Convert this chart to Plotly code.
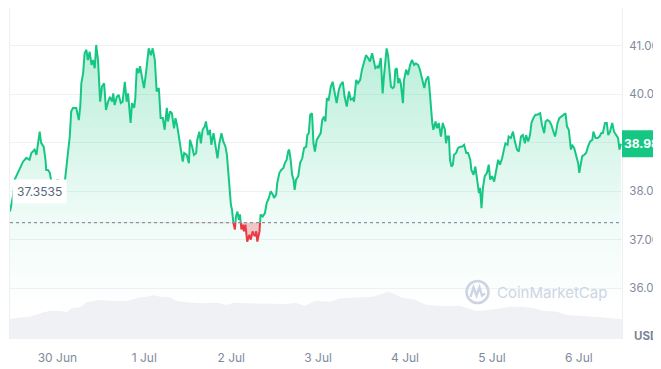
import numpy as np
import pandas as pd
import plotly.graph_objects as go

# ---------------- data ----------------
start_time = "2024-06-29 10:55"
hours = [0.0, 0.8, 1.3, 2.2, 2.7, 3.6, 4.5, 5.4, 5.9, 6.8, 7.3, 7.7, 8.2, 8.6, 9.3, 9.8,
         10.0, 10.5, 11.0, 11.4, 12.3, 13.1, 14.6, 15.1, 15.6, 16.0, 16.5, 16.9, 17.4, 18.3,
         19.0, 19.4, 19.7, 20.2, 20.6, 21.1, 21.5, 22.0, 22.5, 22.9, 23.4, 23.8, 24.3,
         24.9, 25.4, 26.0, 26.5, 27.1, 27.6, 28.2, 28.5, 28.9, 29.5, 30.0, 30.6, 31.1, 31.7,
         32.2, 32.6, 33.3, 33.7, 34.3, 34.6, 35.0, 35.5, 35.9, 36.5, 37.0, 37.6, 37.9, 38.3,
         38.9, 39.4, 40.0, 40.5, 41.1, 41.6, 42.2, 42.7, 43.3, 43.6, 44.2, 44.7, 45.3, 45.7,
         46.2, 46.8, 47.3, 47.7, 48.1, 48.8,
         49.4, 49.7, 50.3, 50.8, 51.4, 51.7, 52.3, 52.7, 53.2, 53.8, 54.1, 54.7, 55.2, 55.6,
         56.2, 56.7, 57.3, 57.8, 58.4, 58.9, 59.5, 59.9, 60.2, 60.6, 61.0, 61.3, 61.7, 62.1,
         62.4, 62.8, 63.2, 63.5, 63.9, 64.3, 64.6, 65.0, 65.5, 66.1, 66.5, 67.0, 67.6, 68.0,
         68.3, 68.9, 69.2, 69.8, 70.4, 70.9, 71.5, 72.0, 72.6,
         72.9, 73.5, 73.8, 74.4, 74.9, 75.5, 75.9, 76.4, 76.8, 77.1, 77.5, 77.9, 78.3, 78.6,
         79.0, 79.6, 80.1, 80.7, 81.2, 81.8, 82.1, 82.5, 82.9, 83.4, 83.8, 84.2, 84.7, 85.3,
         85.8, 86.2, 86.7, 87.1, 87.5, 88.0, 88.6, 89.1, 89.7, 90.2, 90.8, 91.3, 91.9, 92.4,
         93.0, 93.6, 94.1, 94.7, 95.0, 95.6, 96.1, 96.7, 97.2,
         97.8, 98.3, 98.9, 99.4, 100.0, 100.5, 100.9, 101.5, 101.8, 102.4, 102.9, 103.3,
         103.7, 104.0, 104.4, 104.8, 105.2, 105.7, 106.1, 106.4, 106.8, 107.2, 107.5, 107.9,
         108.5, 108.8, 109.4, 109.9, 110.5, 111.0, 111.6, 112.1, 112.7, 113.2, 113.8, 114.4,
         114.9, 115.5, 115.8, 116.2, 116.6, 116.9, 117.5, 117.9, 118.4, 119.0, 119.5, 120.1,
         120.4, 120.8, 121.2,
         121.5, 121.9, 122.3, 122.6, 123.2, 123.7, 124.3, 124.8, 125.4, 126.0, 126.5, 127.1,
         127.4, 128.0, 128.5, 128.9, 129.5, 129.8, 130.2, 130.6, 131.1, 131.7, 132.2, 132.6,
         133.1, 133.7, 134.2, 134.8, 135.3, 135.9, 136.4, 136.8, 137.4, 137.7, 138.3, 138.9,
         139.4, 140.0, 140.5, 141.1, 141.6, 142.2, 142.5, 143.1, 143.6, 144.0, 144.5, 145.1,
         145.6,
         146.4, 146.9, 147.5, 147.9, 148.4, 149.0, 149.5, 149.9, 150.5, 150.8, 151.2, 151.7,
         152.3, 152.8, 153.4, 153.8, 154.3, 154.9, 155.2, 155.8, 156.3, 156.9, 157.2, 157.6,
         158.0, 158.5, 159.1, 159.6, 160.2, 160.8, 161.1, 161.7, 162.2, 162.8, 163.3, 163.7,
         164.3, 164.8, 165.2, 165.7, 166.3, 166.8, 167.4, 167.9, 168.3, 168.7]
price = [37.58, 37.89, 38.24, 38.38, 38.48, 38.61, 38.69, 38.65, 38.79, 38.86, 38.75, 38.96,
         39.23, 39.00, 38.92, 38.65, 38.44, 38.44, 38.38, 38.20, 38.10, 38.24, 38.07, 38.17,
         38.51, 38.69, 39.13, 39.65, 39.72, 39.72, 39.47, 39.75, 40.23, 40.44, 40.85, 40.92,
         40.71, 40.88, 40.61, 40.71, 40.54, 41.02, 40.71,
         39.85, 40.16, 40.23, 39.68, 39.85, 39.95, 39.85, 40.02, 39.78, 39.95, 39.99, 39.82,
         39.85, 40.26, 39.85, 40.02, 39.41, 39.82, 39.72, 39.92, 40.54, 40.44, 40.58, 40.30,
         40.13, 40.47, 40.68, 40.95, 40.81, 40.95, 40.71, 40.06, 40.13, 39.51, 39.51, 39.27,
         39.72, 39.44, 39.65, 39.61, 39.30, 39.51, 39.34, 39.06, 38.75, 38.61, 38.79, 38.75,
         38.58, 39.06, 38.92, 38.75, 38.79, 39.06, 39.23, 38.99, 39.27, 39.34, 39.44, 39.16,
         39.27, 38.96, 39.20, 38.92, 38.68, 38.99, 39.20, 39.03, 38.92, 38.75, 38.48, 38.03,
         37.72, 37.62, 37.34, 37.21, 37.48, 37.58, 37.41, 37.52, 37.21, 37.31, 37.17, 37.31,
         36.96, 37.10, 37.00, 37.17, 37.07, 37.17, 36.96, 37.17, 37.52, 37.48, 37.55, 37.76,
         37.86, 38.00, 37.93,
         37.86, 37.93, 38.17, 38.38, 38.44, 38.48, 38.58, 38.65, 38.82, 38.86, 38.65, 38.34,
         38.24, 38.03, 38.24, 38.31, 38.58, 38.68, 38.89, 38.92, 39.16, 39.20, 39.58, 39.61,
         38.99, 38.82, 39.06, 39.13, 39.20, 39.47, 39.54, 39.44, 39.92, 39.89, 40.16, 40.26,
         40.02, 39.82, 40.09, 40.20, 40.26, 39.95, 39.75, 40.06, 39.89, 39.92, 39.85, 40.30,
         40.23, 40.30, 40.51,
         40.71, 40.81, 40.75, 40.68, 40.85, 40.71, 40.54, 40.58, 40.54, 40.75, 40.02, 40.40,
         40.71, 40.95, 40.81, 40.44, 40.16, 40.13, 40.16, 40.51, 40.54, 40.23, 40.33, 40.23,
         39.82, 40.30, 40.51, 40.40, 40.61, 40.71, 40.61, 40.64, 40.61, 40.51, 40.30, 40.13,
         40.30, 40.37, 40.16, 39.75, 39.41, 39.27, 39.44, 39.30, 39.41, 39.13, 39.41, 39.27,
         38.99, 39.13, 39.13,
         38.65, 38.51, 38.55, 38.75, 38.79, 38.89, 38.92, 38.92, 38.96, 38.79, 38.79, 38.65,
         38.44, 38.34, 38.51, 38.24, 37.96, 38.07, 37.65, 38.07, 38.31, 38.38, 38.55, 38.24,
         38.31, 38.20, 38.41, 38.65, 38.55, 38.68, 38.86, 38.99, 38.96, 39.13, 39.10, 39.23,
         39.03, 38.86, 38.82, 39.13, 39.16, 38.99, 39.16, 39.03, 39.16, 39.41, 39.51, 39.58,
         39.58,
         39.61, 39.37, 39.20, 39.44, 39.47, 39.44, 39.37, 39.27, 39.13, 39.23, 39.41, 39.51,
         39.54, 39.58, 39.61, 39.34, 39.27, 38.86, 38.96, 38.89, 38.75, 38.58, 38.38, 38.61,
         38.72, 38.75, 38.79, 38.92, 39.03, 39.06, 39.23, 39.10, 39.10, 39.13, 39.20, 39.20,
         39.41, 39.41, 39.16, 39.23, 39.41, 39.23, 39.16, 39.10, 38.86, 38.98]

vol_hours = [0.0, 1.9, 5.5, 7.4, 9.2, 11.0, 13.8, 15.7, 17.0, 19.3, 21.2, 24.9, 28.5, 32.2,
             34.1, 35.9, 37.8, 39.6, 41.4, 44.2, 46.0, 48.8, 52.5, 57.1, 59.9, 61.7, 65.4,
             70.9, 76.4, 78.7, 81.5, 84.2, 88.4, 91.1, 95.8, 100.3, 103.1, 104.5, 106.3,
             108.2, 111.4, 115.1, 119.7, 124.3, 127.1, 128.9, 131.7, 134.4, 138.1, 141.8,
             144.5, 147.3, 151.0, 153.8, 157.4, 161.1, 164.8, 168.5, 169.0]
volume = [6.0, 6.4, 6.7, 7.4, 8.0, 8.4, 8.4, 8.1, 9.2, 9.5, 11.0, 11.7, 11.4, 11.4,
          12.0, 12.5, 12.7, 13.2, 12.7, 12.5, 11.4, 11.0, 10.7, 10.9, 10.2, 10.9, 10.7,
          10.5, 10.5, 10.9, 10.0, 11.5, 11.2, 12.2, 12.5, 12.7, 13.7, 14.2, 13.4,
          12.4, 11.9, 10.2, 9.9, 10.0, 8.9, 8.4, 8.7, 9.0, 9.7, 9.7,
          9.2, 8.5, 8.2, 7.2, 7.0, 6.7, 6.2, 6.0, 6.0]

baseline = 37.3535
last_price = 38.98
y_ticks = [36, 37, 38, 39, 40, 41]
day_ticks = ["2024-06-30", "2024-07-01", "2024-07-02", "2024-07-03",
             "2024-07-04", "2024-07-05", "2024-07-06"]
span_hours = 169.0

# ---------------- derived series ----------------
GREEN = "#16c784"
RED = "#ea3943"
t0 = pd.Timestamp(start_time)
h = np.array(hours, dtype=float)
p = np.array(price, dtype=float)

hx, py = [h[0]], [p[0]]
for i in range(1, len(h)):
    a, b = p[i - 1] - baseline, p[i] - baseline
    if a * b < 0:
        f = a / (a - b)
        hx.append(h[i - 1] + f * (h[i] - h[i - 1]))
        py.append(baseline)
    hx.append(h[i])
    py.append(p[i])
hx = np.array(hx)
py = np.array(py)
t = t0 + pd.to_timedelta(hx, unit="h")
green_line = np.where(py >= baseline, py, np.nan)
red_line = np.where(py <= baseline, py, np.nan)

vt = t0 + pd.to_timedelta(np.array(vol_hours), unit="h")

fig = go.Figure()

# volume
fig.add_trace(go.Scatter(x=vt, y=volume, yaxis="y2", mode="lines",
                         line=dict(width=0), fill="tozeroy",
                         fillcolor="#eff1f5", hoverinfo="skip"))
# green gradient fill
fig.add_trace(go.Scatter(x=t, y=np.maximum(py, baseline), mode="lines",
                         line=dict(width=0), fill="tozeroy",
                         fillgradient=dict(type="vertical", start=35.6, stop=41.0,
                                           colorscale=[[0, "rgba(22,199,132,0.0)"],
                                                       [0.35, "rgba(22,199,132,0.07)"],
                                                       [1, "rgba(22,199,132,0.30)"]]),
                         hoverinfo="skip"))
# red fill between baseline and price
fig.add_trace(go.Scatter(x=t, y=np.full(len(t), baseline), mode="lines",
                         line=dict(width=0), hoverinfo="skip"))
fig.add_trace(go.Scatter(x=t, y=np.minimum(py, baseline), mode="lines",
                         line=dict(width=0), fill="tonexty",
                         fillcolor="rgba(234,57,67,0.28)", hoverinfo="skip"))
# lines
fig.add_trace(go.Scatter(x=t, y=green_line, mode="lines",
                         line=dict(color=GREEN, width=2), connectgaps=False,
                         hoverinfo="skip"))
fig.add_trace(go.Scatter(x=t, y=red_line, mode="lines",
                         line=dict(color=RED, width=2), connectgaps=False,
                         hoverinfo="skip"))

FONT = "Inter, Roboto, Arial, sans-serif"
AX = "#808a9d"

# tick label under the price tag is hidden by the tag in the reference
tick_text = ["" if abs(v - last_price) < 0.3 else f"{v:.2f}" for v in y_ticks]

# the page body keeps an 8px margin, so the figure is 8px smaller each way
fig.update_layout(
    width=653, height=361,
    margin=dict(l=2, r=39, t=0, b=30),
    paper_bgcolor="white", plot_bgcolor="white",
    showlegend=False,
    font=dict(family=FONT, size=12, color=AX),
    xaxis=dict(type="date",
               range=[t0, t0 + pd.Timedelta(hours=span_hours)],
               tickvals=pd.to_datetime(day_ticks), tickformat="%-d %b",
               showgrid=False, zeroline=False, showline=False, ticks="",
               ticklabelstandoff=10,
               tickfont=dict(size=12, color=AX, family=FONT)),
    yaxis=dict(side="right", range=[34.948, 41.784],
               tickvals=y_ticks, ticktext=tick_text,
               showgrid=True, gridcolor="#eff2f5", gridwidth=1,
               zeroline=False, showline=True, mirror=True, linecolor="#eceff3",
               ticks="", ticklabelstandoff=4,
               tickfont=dict(size=11.5, color=AX, family=FONT)),
    yaxis2=dict(overlaying="y", range=[0, 99.3], visible=False),
)

# dotted baseline
fig.add_shape(type="line", xref="paper", x0=0, x1=1, yref="y", y0=baseline, y1=baseline,
              line=dict(color="#8a93a6", width=1.2, dash="dot"), layer="above")

# baseline label
fig.add_annotation(xref="paper", x=0, xanchor="left", xshift=2,
                   yref="y", y=38.0, yanchor="middle",
                   text=f"{baseline:.4f}", showarrow=False,
                   font=dict(size=12, color="#58667e", family=FONT),
                   bgcolor="white", borderpad=4)

# current price tag: green box over the right axis, then the text on it
tag_w = 39 / 612          # box width as a fraction of the plot width
tag_h = 0.28              # half height in price units
fig.add_shape(type="rect", xref="paper", x0=1, x1=1 + tag_w,
              yref="y", y0=last_price - tag_h, y1=last_price + tag_h,
              fillcolor=GREEN, line=dict(width=0), layer="above")
fig.add_annotation(xref="paper", x=1 + tag_w / 2, xanchor="center",
                   yref="y", y=last_price, yanchor="middle",
                   text=f"<b>{last_price:.2f}</b>", showarrow=False,
                   font=dict(size=12, color="white", family=FONT))

# USD label
fig.add_annotation(xref="paper", x=1, xanchor="left", xshift=10,
                   yref="paper", y=0, yanchor="middle", yshift=3,
                   text="<b>USD</b>", showarrow=False,
                   font=dict(size=11.5, color="#7c8599", family=FONT))

# CoinMarketCap watermark (positions in page pixels)
WM = "#cdd5e5"
def px_x(v):
    return (v - 10) / 612
def px_y(v):
    return (339 - v) / 331
fig.add_shape(type="circle", xref="paper", yref="paper",
              x0=px_x(466.5), x1=px_x(488.5), y0=px_y(303), y1=px_y(281),
              line=dict(color=WM, width=2.6), layer="above")
path = "M {} {} L {} {} L {} {} L {} {} L {} {} L {} {}".format(
    px_x(470.5), px_y(297), px_x(473.5), px_y(287.5), px_x(476.5), px_y(295.5),
    px_x(479.5), px_y(287.5), px_x(482), px_y(295.5), px_x(485), px_y(293.5))
fig.add_shape(type="path", xref="paper", yref="paper", path=path,
              line=dict(color=WM, width=2.4), layer="above")
fig.add_annotation(xref="paper", x=px_x(495), xanchor="left",
                   yref="paper", y=px_y(292), yanchor="middle",
                   text="CoinMarketCap", showarrow=False,
                   font=dict(size=15, color=WM, family=FONT))

fig.write_html("out.html")
